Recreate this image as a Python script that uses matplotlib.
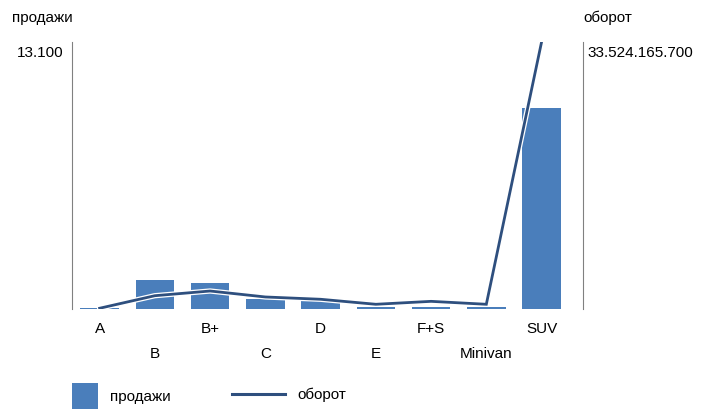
import matplotlib
matplotlib.use("Agg")
import matplotlib.pyplot as plt
import matplotlib.patheffects as pe
from matplotlib.patches import Patch
from matplotlib.lines import Line2D

# data
categories = ["A", "B", "B+", "C", "D", "E", "F+S", "Minivan", "SUV"]
sales = [40, 1380, 1230, 490, 345, 65, 50, 65, 9850]
turnover = [0.03e9, 1.61e9, 2.2e9, 1.45e9, 1.16e9, 0.53e9, 0.9e9, 0.53e9, 33524165700]

sales_max = 13100
turnover_max = 33524165700

bar_color = "#4A7EBB"
line_color = "#2E4F7E"
axis_color = "#808080"

plt.rcParams['font.family'] = ['Liberation Sans', 'DejaVu Sans']
plt.rcParams['font.size'] = 11

fig = plt.figure(figsize=(7.09, 4.11), dpi=100)
ax = fig.add_axes([72 / 709, 1 - 308.5 / 411, (583 - 72) / 709, (308.5 - 42) / 411])
ax2 = ax.twinx()

x = list(range(len(categories)))
ax.bar(x, sales, width=0.7, color=bar_color, zorder=2)
ax2.plot(x, turnover, color=line_color, linewidth=2.0, solid_joinstyle='miter',
         path_effects=[pe.Stroke(linewidth=3.8, foreground='white'), pe.Normal()])

ax.set_xlim(-0.5, 8.75)
ax.set_ylim(0, sales_max)
ax2.set_ylim(0, turnover_max)

for a in (ax, ax2):
    a.spines['top'].set_visible(False)
    a.spines['bottom'].set_visible(False)
    a.spines['left'].set_visible(False)
    a.spines['right'].set_visible(False)
    a.set_yticks([])
ax.spines['left'].set_visible(True)
ax.spines['left'].set_color(axis_color)
ax2.spines['right'].set_visible(True)
ax2.spines['right'].set_color(axis_color)

ax.set_xticks(x)
ax.set_xticklabels(categories)
ax.tick_params(axis='x', length=0)
for i, tick in enumerate(ax.xaxis.get_major_ticks()):
    tick.set_pad(9.5 if i % 2 == 0 else 27.5)

# axis titles and max labels
fig.text(12 / 709, 1 - 18 / 411, "продажи", ha='left', va='center')
fig.text(583 / 709, 1 - 18 / 411, "оборот", ha='left', va='center')
fig.text(63 / 709, 1 - 53 / 411, "13.100", ha='right', va='center')
fig.text(587 / 709, 1 - 53 / 411, "33.524.165.700", ha='left', va='center')

# legend
h1 = Patch(facecolor=bar_color, edgecolor='none')
h2 = Line2D([0], [0], color=line_color, linewidth=2.2)
fig.legend([h1], ["продажи"], loc='center left', bbox_to_anchor=(58 / 709, 1 - 396 / 411),
           frameon=False, handlelength=1.7, handleheight=2.2, handletextpad=0.8)
fig.legend([h2], ["оборот"], loc='center left', bbox_to_anchor=(218 / 709, 1 - 395 / 411),
           frameon=False, handlelength=3.5, handletextpad=0.8)

fig.savefig("out.png", dpi=100)
